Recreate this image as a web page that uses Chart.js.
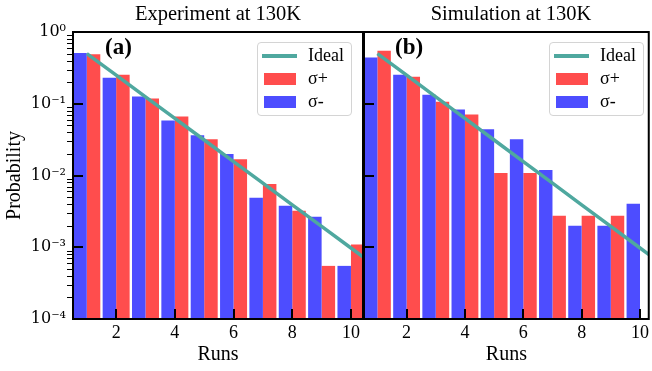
<!DOCTYPE html>
<html>
<head>
<meta charset="utf-8">
<script src="https://cdn.jsdelivr.net/npm/chart.js@4.4.1/dist/chart.umd.min.js"></script>
<style>
  body { margin: 0; width: 652px; height: 371px; overflow: hidden; position: relative; background: #fff;
         font-family: 'Liberation Serif', 'Times New Roman', serif; color: #000; }
  canvas { position: absolute; top: 0; }
  .txt { position: absolute; white-space: nowrap; line-height: 1; }
  .ttl { font-size: 20.5px; transform: translateX(-50%); }
  .tag { font-size: 23px; font-weight: bold; }
  .legend { position: absolute; width: 95px; height: 74px; box-sizing: border-box;
            border: 1px solid #d4d4d4; border-radius: 4px; background: rgba(255,255,255,0.8); }
  .legend .ln { position: absolute; left: 4px; top: 11px; width: 35px; height: 3.5px; background: #4fa89f; }
  .legend .pt { position: absolute; left: 6px; width: 32px; height: 12px; }
  .legend .lb { position: absolute; left: 50px; font-size: 18px; line-height: 1; }
</style>
</head>
<body>
<canvas id="left" width="364" height="371" style="left:0px"></canvas>
<canvas id="right" width="312" height="371" style="left:340px"></canvas>

<div class="txt ttl" style="left:218px; top:3px">Experiment at 130K</div>
<div class="txt ttl" style="left:511px; top:3px">Simulation at 130K</div>
<div class="txt tag" style="left:105px; top:35px">(a)</div>
<div class="txt tag" style="left:395px; top:35px">(b)</div>

<div class="legend" style="left:257px; top:42px">
  <div class="ln"></div><div class="lb" style="top:3px">Ideal</div>
  <div class="pt" style="top:30px; background:#ff4d4d"></div><div class="lb" style="top:26px">σ+</div>
  <div class="pt" style="top:53px; background:#4d4dff"></div><div class="lb" style="top:49px">σ-</div>
</div>
<div class="legend" style="left:549px; top:42px">
  <div class="ln"></div><div class="lb" style="top:3px">Ideal</div>
  <div class="pt" style="top:30px; background:#ff4d4d"></div><div class="lb" style="top:26px">σ+</div>
  <div class="pt" style="top:53px; background:#4d4dff"></div><div class="lb" style="top:49px">σ-</div>
</div>

<script>
// valores
const runs = [1, 2, 3, 4, 5, 6, 7, 8, 9, 10];
const expPlus  = [0.49, 0.254, 0.118, 0.0666, 0.032, 0.0169, 0.00762, 0.00323, 0.00055, 0.00109];
const expMinus = [0.51, 0.231, 0.126, 0.0586, 0.0363, 0.0199, 0.00489, 0.00379, 0.00267, 0.00055];
const simPlus  = [0.546, 0.238, 0.107, 0.071, 0.0108, 0.0108, 0.00275, 0.00275, 0.00275, null];
const simMinus = [0.441, 0.254, 0.134, 0.0832, 0.044, 0.032, 0.0119, 0.002, 0.002, 0.00403];
const idealRuns = [1, 2, 3, 4, 5, 6, 7, 8, 9, 10, 10.5];
const idealProb = [0.5, 0.25, 0.125, 0.0625, 0.03125, 0.015625, 0.0078125, 0.00390625, 0.001953125, 0.0009765625, 0.00069];
const xTicks = [2, 4, 6, 8, 10];
const yTicks = [1e-4, 1e-3, 1e-2, 1e-1, 1];
const yTickLabels = ['10⁻⁴', '10⁻³', '10⁻²', '10⁻¹', '10⁰'];

Chart.defaults.font.family = "'Liberation Serif', 'Times New Roman', serif";
Chart.defaults.color = '#000';

// ticks para dentro, minor ticks para fora e moldura
const axisDecor = {
    id: 'axisDecor',
    afterDatasetsDraw(chart, args, opts) {
        const { ctx, chartArea: a, scales: { x, y } } = chart;
        ctx.save();
        ctx.strokeStyle = '#000';
        if (opts.minor) {
            ctx.lineWidth = 1;
            for (let k = -4; k < 0; k++) {
                for (let m = 2; m <= 9; m++) {
                    const py = Math.round(y.getPixelForValue(m * Math.pow(10, k))) + 0.5;
                    ctx.beginPath(); ctx.moveTo(a.left - 6, py); ctx.lineTo(a.left, py); ctx.stroke();
                }
            }
        }
        ctx.lineWidth = 2;
        yTicks.slice(1, -1).forEach(v => {
            const py = Math.round(y.getPixelForValue(v));
            ctx.beginPath(); ctx.moveTo(a.left, py); ctx.lineTo(a.left + 10, py); ctx.stroke();
        });
        xTicks.forEach(v => {
            const px = Math.round(x.getPixelForValue(v));
            ctx.beginPath(); ctx.moveTo(px, a.bottom); ctx.lineTo(px, a.bottom - 10); ctx.stroke();
        });
        ctx.strokeRect(a.left, a.top, a.right - a.left, a.bottom - a.top);
        ctx.restore();
    }
};

function grafico(canvas, plus, minus, cfg) {
    const ctx = document.getElementById(canvas).getContext('2d');
    return new Chart(ctx, {
        type: 'bar',
        data: {
            datasets: [
                {
                    type: 'line', label: 'Ideal', order: 0, clip: 0,
                    data: idealRuns.map((r, i) => ({ x: r, y: idealProb[i] })),
                    borderColor: '#4fa89f', borderWidth: 3.5, pointRadius: 0, tension: 0
                },
                {
                    label: 'σ-', order: 1,
                    data: runs.map((r, i) => ({ x: r, y: minus[i] })),
                    backgroundColor: '#4d4dff', borderWidth: 0,
                    categoryPercentage: 0.92, barPercentage: 1
                },
                {
                    label: 'σ+', order: 1,
                    data: runs.map((r, i) => ({ x: r, y: plus[i] })),
                    backgroundColor: '#ff4d4d', borderWidth: 0,
                    categoryPercentage: 0.92, barPercentage: 1
                }
            ]
        },
        options: {
            responsive: false,
            animation: false,
            devicePixelRatio: 1,
            layout: { padding: { top: 32, right: cfg.padRight, left: 0, bottom: 0 } },
            scales: {
                x: {
                    type: 'linear', offset: false,
                    min: cfg.xMin, max: cfg.xMax,
                    grid: { display: false, drawTicks: false },
                    border: { display: false },
                    afterBuildTicks: s => { s.ticks = xTicks.map(v => ({ value: v })); },
                    afterFit: s => { s.height = 52; },
                    ticks: { font: { size: 18 }, padding: 3, autoSkip: false, maxRotation: 0 },
                    title: { display: true, text: 'Runs', font: { size: 20 }, padding: { top: 0, bottom: 4 } }
                },
                y: {
                    type: 'logarithmic',
                    min: 1e-4, max: 1,
                    grid: { display: false, drawTicks: false },
                    border: { display: false },
                    afterBuildTicks: s => { s.ticks = yTicks.map(v => ({ value: v })); },
                    afterFit: s => { s.width = cfg.yWidth; },
                    ticks: {
                        display: cfg.yLabels, autoSkip: false, padding: 7,
                        font: { family: "'DejaVu Serif', serif", size: 16 },
                        callback: (v, i) => yTickLabels[i]
                    },
                    title: { display: cfg.yLabels, text: 'Probability', font: { size: 20 }, padding: { top: 3, bottom: 0 } }
                }
            },
            plugins: {
                legend: { display: false },
                tooltip: { enabled: false },
                axisDecor: { minor: cfg.minor }
            }
        },
        plugins: [axisDecor]
    });
}

grafico('left', expPlus, expMinus, { xMin: 0.53, xMax: 10.41, yWidth: 73, padRight: 1, yLabels: true, minor: true });
grafico('right', simPlus, simMinus, { xMin: 0.54, xMax: 10.3, yWidth: 24, padRight: 0, yLabels: false, minor: false });
</script>
</body>
</html>
